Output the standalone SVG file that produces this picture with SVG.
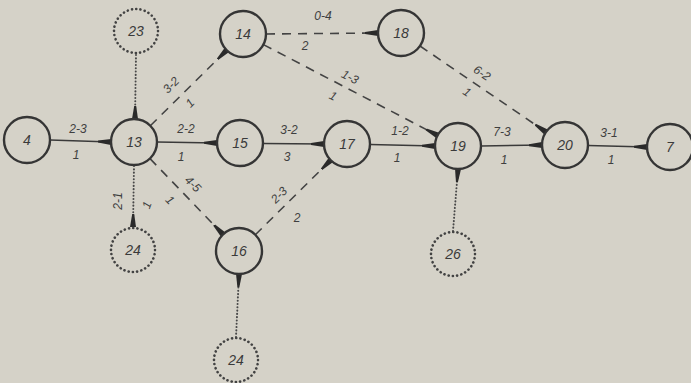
<svg xmlns="http://www.w3.org/2000/svg" width="691" height="383" viewBox="0 0 691 383">
<defs>
<marker id="ah" markerUnits="userSpaceOnUse" markerWidth="14" markerHeight="8" refX="13" refY="4" orient="auto">
<path d="M0,3 L13,1 L13,7 L0,5 Z" fill="#2a2a2a"/>
</marker>
<style>
.n{fill:none;stroke:#353535;stroke-width:2.4}
.d{fill:none;stroke:#424242;stroke-width:2.6;stroke-dasharray:0.1 4.2;stroke-linecap:round}
.t{font-family:"Liberation Sans",Arial,sans-serif;font-style:italic;font-size:14px;fill:#3a3a3a;text-anchor:middle;dominant-baseline:central}
.l{font-family:"Liberation Sans",Arial,sans-serif;font-style:italic;font-size:12px;fill:#3f3f3f;text-anchor:middle;dominant-baseline:central}
.s{fill:none;stroke:#3a3a3a;stroke-width:1.5;marker-end:url(#ah)}
.da{fill:none;stroke:#434343;stroke-width:1.6;stroke-dasharray:9 7;marker-end:url(#ah)}
.do{fill:none;stroke:#484848;stroke-width:2;stroke-dasharray:0.1 3.2;stroke-linecap:round;marker-end:url(#ah)}
</style>
</defs>
<rect width="691" height="383" fill="#d5d2c8"/>
<g id="connectors">
<line class="s" x1="50" y1="140" x2="111" y2="142"/>
<line class="do" x1="136" y1="55" x2="135" y2="119"/>
<line class="da" x1="150.3" y1="125.8" x2="226.7" y2="50.2"/>
<line class="s" x1="157" y1="142" x2="217" y2="143"/>
<line class="do" x1="134" y1="166" x2="133" y2="227"/>
<line class="da" x1="150" y1="158.6" x2="223" y2="234.4"/>
<line class="do" x1="236" y1="337" x2="239" y2="274"/>
<line class="da" x1="255.3" y1="234.8" x2="330.7" y2="160.2"/>
<line class="da" x1="266" y1="34" x2="378" y2="33"/>
<line class="da" x1="263.4" y1="44.6" x2="437.6" y2="135.4"/>
<line class="s" x1="263" y1="143.5" x2="324" y2="144"/>
<line class="s" x1="370" y1="144.5" x2="435" y2="146"/>
<line class="da" x1="420" y1="46" x2="546" y2="132"/>
<line class="s" x1="481" y1="146" x2="542" y2="145"/>
<line class="s" x1="588" y1="145.5" x2="647" y2="147"/>
<line class="do" x1="453" y1="231" x2="458" y2="169"/>
<text class="l" x="78" y="129">2-3</text>
<text class="l" x="76" y="155">1</text>
<text class="l" x="186" y="129">2-2</text>
<text class="l" x="181" y="157">1</text>
<text class="l" x="289" y="130">3-2</text>
<text class="l" x="287" y="157">3</text>
<text class="l" x="400" y="131">1-2</text>
<text class="l" x="397" y="158">1</text>
<text class="l" x="502" y="132">7-3</text>
<text class="l" x="504" y="160">1</text>
<text class="l" x="609" y="133">3-1</text>
<text class="l" x="611" y="160">1</text>
<text class="l" x="323" y="16">0-4</text>
<text class="l" x="305" y="46">2</text>
<text class="l" x="350" y="77" transform="rotate(27 350 77)">1-3</text>
<text class="l" x="333" y="96" transform="rotate(27 333 96)">1</text>
<text class="l" x="482" y="73" transform="rotate(34 482 73)">6-2</text>
<text class="l" x="467" y="92" transform="rotate(34 467 92)">1</text>
<text class="l" x="171" y="85" transform="rotate(-45 171 85)">3-2</text>
<text class="l" x="190" y="103" transform="rotate(-45 190 103)">1</text>
<text class="l" x="118" y="201" transform="rotate(-90 118 201)">2-1</text>
<text class="l" x="147" y="205" transform="rotate(-70 147 205)">1</text>
<text class="l" x="193" y="184" transform="rotate(45 193 184)">4-5</text>
<text class="l" x="170" y="200" transform="rotate(45 170 200)">1</text>
<text class="l" x="279" y="195" transform="rotate(-45 279 195)">2-3</text>
<text class="l" x="297" y="218">2</text>
</g>
<g id="n4"><circle class="n" cx="27" cy="140" r="23"/><text class="t" x="27" y="140">4</text></g>
<g id="n13"><circle class="n" cx="134" cy="142" r="23"/><text class="t" x="134" y="142">13</text></g>
<g id="n23"><circle class="d" cx="136" cy="31" r="22"/><text class="t" x="136" y="31">23</text></g>
<g id="n14"><circle class="n" cx="243" cy="34" r="23"/><text class="t" x="243" y="34">14</text></g>
<g id="n15"><circle class="n" cx="240" cy="143" r="23"/><text class="t" x="240" y="143">15</text></g>
<g id="n18"><circle class="n" cx="401" cy="33" r="23"/><text class="t" x="401" y="33">18</text></g>
<g id="n17"><circle class="n" cx="347" cy="144" r="23"/><text class="t" x="347" y="144">17</text></g>
<g id="n19"><circle class="n" cx="458" cy="146" r="23"/><text class="t" x="458" y="146">19</text></g>
<g id="n20"><circle class="n" cx="565" cy="145" r="23"/><text class="t" x="565" y="145">20</text></g>
<g id="n7"><circle class="n" cx="670" cy="147" r="23"/><text class="t" x="670" y="147">7</text></g>
<g id="n24a"><circle class="d" cx="133" cy="250" r="22"/><text class="t" x="133" y="250">24</text></g>
<g id="n16"><circle class="n" cx="239" cy="251" r="23"/><text class="t" x="239" y="251">16</text></g>
<g id="n24b"><circle class="d" cx="236" cy="360" r="22"/><text class="t" x="236" y="360">24</text></g>
<g id="n26"><circle class="d" cx="453" cy="254" r="22"/><text class="t" x="453" y="254">26</text></g>
</svg>
